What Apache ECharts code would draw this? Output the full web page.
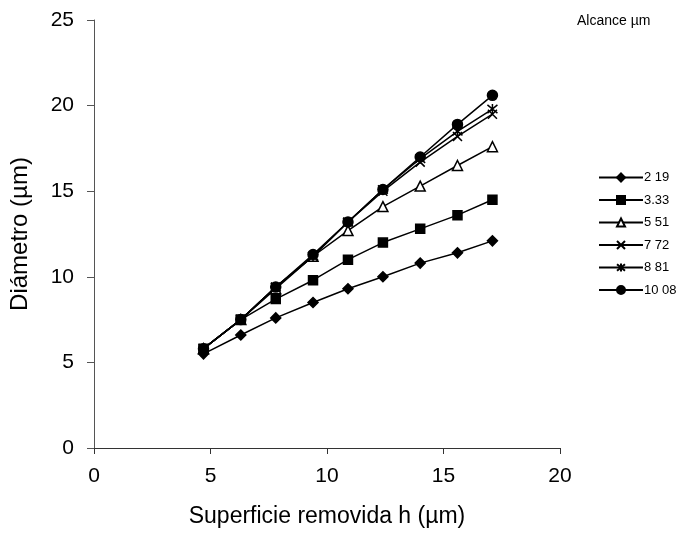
<!DOCTYPE html>
<html>
<head>
<meta charset="utf-8">
<script src="https://cdn.jsdelivr.net/npm/echarts@6/dist/echarts.min.js"></script>
<style>html,body{margin:0;padding:0;background:#fff}#c{width:681px;height:537px}</style>
</head>
<body>
<div id="c"></div>
<script>
const h = [4.7, 6.3, 7.8, 9.4, 10.9, 12.4, 14.0, 15.6, 17.1];
const seriesNames = ['2 19', '3.33', '5 51', '7 72', '8 81', '10 08'];
const d219 = [5.5, 6.6, 7.6, 8.5, 9.3, 10.0, 10.8, 11.4, 12.1];
const d333 = [5.8, 7.5, 8.7, 9.8, 11.0, 12.0, 12.8, 13.6, 14.5];
const d551 = [5.8, 7.5, 9.3, 11.2, 12.7, 14.1, 15.3, 16.5, 17.6];
const d772 = [5.8, 7.5, 9.4, 11.2, 13.2, 15.0, 16.7, 18.2, 19.5];
const d881 = [5.8, 7.5, 9.4, 11.2, 13.2, 15.1, 16.9, 18.5, 19.8];
const d1008 = [5.8, 7.5, 9.4, 11.3, 13.2, 15.1, 17.0, 18.9, 20.6];
const allData = [d219, d333, d551, d772, d881, d1008];
const xTicks = [0, 5, 10, 15, 20];
const yTicks = [0, 5, 10, 15, 20, 25];

const symbols = [
  {symbol: 'diamond', size: 10, fill: '#000'},
  {symbol: 'rect', size: 9, fill: '#000'},
  {symbol: 'triangle', size: 10, fill: '#fff'},
  {symbol: 'path://M0,0L10,10M10,0L0,10', size: 9, fill: 'none'},
  {symbol: 'path://M0,0L10,10M10,0L0,10M5,-1L5,11', size: 10, fill: 'none'},
  {symbol: 'circle', size: 10, fill: '#000'}
];

const font = 'Liberation Sans, Arial, sans-serif';
const chart = echarts.init(document.getElementById('c'), null, {renderer: 'canvas'});
chart.setOption({
  animation: false,
  backgroundColor: '#fff',
  grid: {left: 92, right: 121, top: 20, bottom: 89, containLabel: false},
  title: {text: 'Alcance µm', left: 572, top: 9,
    textStyle: {fontFamily: font, fontSize: 14, fontWeight: 'normal', color: '#000'}},
  legend: {
    orient: 'vertical', left: 593, top: 166, itemWidth: 44, itemHeight: 10, itemGap: 9.5,
    textStyle: {fontFamily: font, fontSize: 13, color: '#000', padding: [0,0,0,-4]},
    data: seriesNames
  },
  xAxis: {
    type: 'value', min: 0, max: 20, interval: 5,
    name: 'Superficie removida h (µm)', nameLocation: 'middle', nameGap: 57,
    nameTextStyle: {fontFamily: font, fontSize: 23, color: '#000'},
    axisLine: {show: true, lineStyle: {color: '#333', width: 1}},
    axisTick: {show: true, length: 6, lineStyle: {color: '#333'}},
    axisLabel: {fontFamily: font, fontSize: 21, color: '#000', margin: 18,
      formatter: v => xTicks.includes(v) ? String(v) : ''},
    splitLine: {show: false}
  },
  yAxis: {
    type: 'value', min: 0, max: 25, interval: 5,
    name: 'Diámetro (µm)', nameLocation: 'middle', nameGap: 62,
    nameTextStyle: {fontFamily: font, fontSize: 24, color: '#000'},
    axisLine: {show: true, lineStyle: {color: '#555', width: 1}},
    axisTick: {show: true, length: 7, lineStyle: {color: '#555'}},
    axisLabel: {fontFamily: font, fontSize: 21, color: '#000', margin: 20,
      formatter: v => yTicks.includes(v) ? String(v) : ''},
    splitLine: {show: false}
  },
  series: seriesNames.map((name, i) => ({
    name: name, type: 'line',
    data: h.map((x, j) => [x, allData[i][j]]),
    symbol: symbols[i].symbol, symbolSize: symbols[i].size, showAllSymbol: true,
    lineStyle: {color: '#000', width: 1.5},
    itemStyle: {color: symbols[i].fill, borderColor: '#000', borderWidth: 1.5},
    z: 2 + i
  }))
});
</script>
</body>
</html>
